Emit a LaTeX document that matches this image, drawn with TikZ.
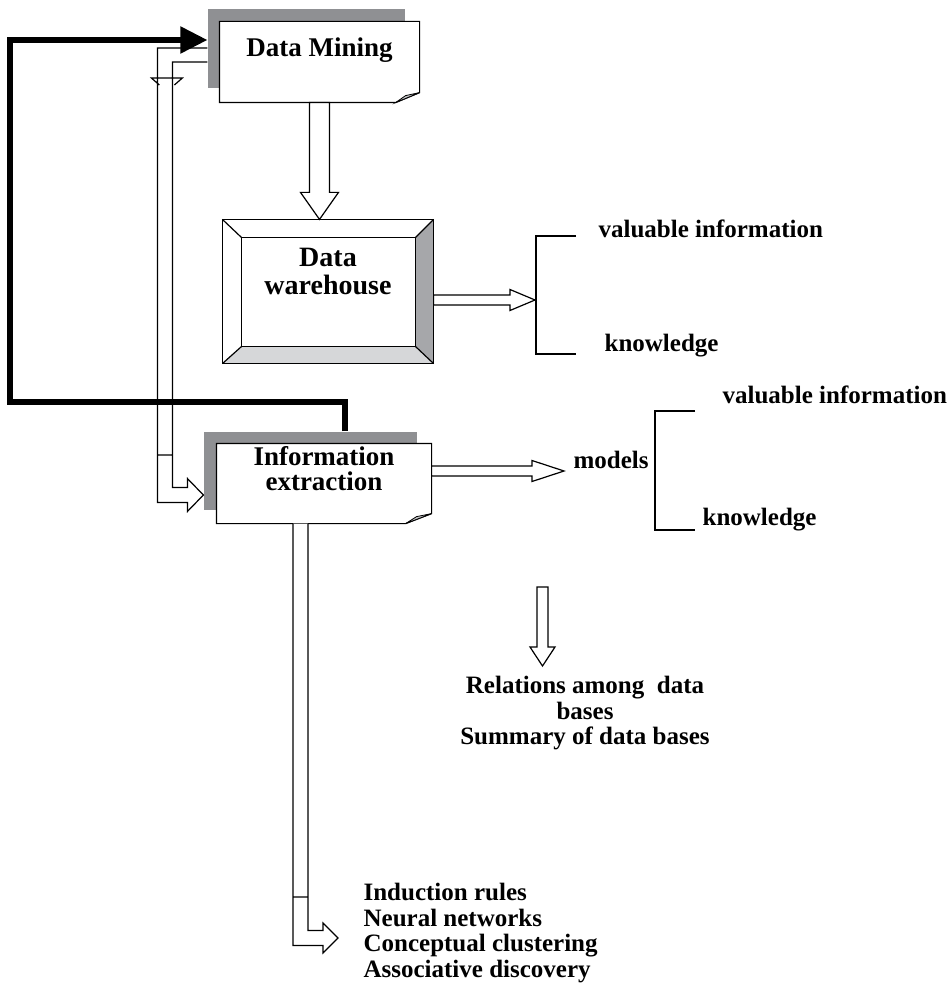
\documentclass[tikz,border=0pt]{standalone}
\usepackage{fontspec}
\setmainfont{Liberation Serif}
\usetikzlibrary{calc,arrows.meta}

\definecolor{shadowgray}{RGB}{143,144,147}
\definecolor{bevelside}{RGB}{166,167,170}
\definecolor{bevelbottom}{RGB}{214,215,217}
\definecolor{foldgray}{RGB}{195,196,198}

% hollow block arrows: start, end, shaft half width, head half width, head length
\newcommand{\rightpipe}[5]{\draw[pipe] let \p1=(#1), \p2=(#2) in
  (\x1,\y1+#3) -- (\x2-#5,\y1+#3) -- (\x2-#5,\y1+#4) -- (\x2,\y1)
  -- (\x2-#5,\y1-#4) -- (\x2-#5,\y1-#3) -- (\x1,\y1-#3) -- cycle;}
\newcommand{\downpipe}[5]{\draw[pipe] let \p1=(#1), \p2=(#2) in
  (\x1-#3,\y1) -- (\x1-#3,\y2+#5) -- (\x1-#4,\y2+#5) -- (\x1,\y2)
  -- (\x1+#4,\y2+#5) -- (\x1+#3,\y2+#5) -- (\x1+#3,\y1) -- cycle;}

\begin{document}
\begin{tikzpicture}[x=0.5pt, y=-0.5pt, line width=0.6pt,
    shadowbox/.style={fill=shadowgray, inner sep=0pt},
    page/.style={fill=white, inner sep=0pt},
    title/.style={font=\fontsize{13.5}{13}\selectfont\bfseries, align=center, inner sep=0pt},
    txt/.style={font=\fontsize{12.5}{12.75}\selectfont\bfseries, inner sep=0pt},
    pipe/.style={draw, fill=white},
    feedback/.style={line width=2.6pt, -{Triangle[length=13.5pt,width=13pt]}}]
  \useasboundingbox (0,0) rectangle (948,984);

  % Data Mining
  \node[shadowbox, minimum width=98.5pt, minimum height=39.5pt] (dmsh) at (306.5,48.5) {};
  \node[page, minimum width=99.5pt, minimum height=40pt] (dm) at (319.5,62) {};
  \draw (dm.north west) -- (dm.north east) -- ([yshift=5pt]dm.south east)
    -- ([xshift=-12pt]dm.south east) -- (dm.south west) -- cycle;
  \filldraw[fill=foldgray, line width=0.4pt] ([xshift=-12pt]dm.south east)
    -- ([shift={(-7pt,3.5pt)}]dm.south east) -- ([yshift=5pt]dm.south east) -- cycle;
  \node[title, anchor=base] (dmtxt) at ([yshift=2.5pt]dm.center) {Data Mining};

  % Data warehouse
  \node[minimum width=105pt, minimum height=71.5pt, inner sep=0pt] (dw) at (328,291.5) {};
  \coordinate (dwnw) at ([shift={(9.5pt,-9pt)}]dw.north west);
  \coordinate (dwne) at ([shift={(-9pt,-9pt)}]dw.north east);
  \coordinate (dwse) at ([shift={(-9pt,8.5pt)}]dw.south east);
  \coordinate (dwsw) at ([shift={(9.5pt,8.5pt)}]dw.south west);
  \fill[bevelside] (dw.north east) -- (dw.south east) -- (dwse) -- (dwne) -- cycle;
  \fill[bevelbottom] (dw.south west) -- (dw.south east) -- (dwse) -- (dwsw) -- cycle;
  \draw (dw.north west) rectangle (dw.south east);
  \draw (dwnw) rectangle (dwse);
  \draw (dw.north west) -- (dwnw) (dw.north east) -- (dwne)
    (dw.south east) -- (dwse) (dw.south west) -- (dwsw);
  \node[title, font=\fontsize{14}{14}\selectfont\bfseries] (dwtxt) at ([yshift=10pt]dw.center) {Data\\warehouse};

  % Information extraction
  \node[shadowbox, minimum width=106.5pt, minimum height=39pt] (iesh) at (310.5,471) {};
  \node[page, minimum width=107pt, minimum height=39.5pt] (ie) at (324,483.5) {};
  \draw (ie.north west) -- (ie.north east) -- ([yshift=5pt]ie.south east)
    -- ([xshift=-13pt]ie.south east) -- (ie.south west) -- cycle;
  \filldraw[fill=foldgray, line width=0.4pt] ([xshift=-13pt]ie.south east)
    -- ([shift={(-7.5pt,3.5pt)}]ie.south east) -- ([yshift=5pt]ie.south east) -- cycle;
  \node[title, font=\fontsize{13.5}{12.5}\selectfont\bfseries] (ietxt) at ([yshift=7.5pt]ie.center) {Information\\extraction};

  % right-hand texts
  \node[txt, anchor=base west] (vi1) at (598,237) {valuable information};
  \node[txt, anchor=base west] (kn1) at (604,351) {knowledge};
  \node[txt, anchor=base west] (models) at (573,468) {models};
  \node[txt, anchor=base west] (vi2) at (722,403) {valuable information};
  \node[txt, anchor=base west] (kn2) at (702,525) {knowledge};
  \node[txt, align=center, anchor=north] (rel) at (585,676)
    {Relations among\ \ data\\bases\\Summary of data bases};
  \node[txt, align=left, anchor=north west] (algos) at (363,883)
    {Induction rules\\Neural networks\\Conceptual clustering\\Associative discovery};

  % brackets
  \coordinate (br1) at (535,300);
  \draw (576,236) -| (536,354) -- (576,354);
  \draw (695,411) -| (655,530) -- (695,530);
  \coordinate (relsrc) at (542.5,587);

  % block arrows
  \downpipe{dm.south}{dw.north}{5pt}{9.5pt}{13.5pt}
  \rightpipe{[yshift=-4.25pt]dw.east}{br1}{2.5pt}{5.25pt}{12.5pt}
  \rightpipe{[yshift=6.25pt]ie.east}{[xshift=-4.5pt]models.west}{2.5pt}{5.25pt}{16pt}
  \downpipe{relsrc}{[yshift=5pt]rel.north}{2.75pt}{6.25pt}{9.5pt}

  % Data Mining -> Information extraction
  \draw[pipe] let \p1=([yshift=-3.25pt]dmsh.west), \p2=([yshift=-12pt]iesh.west) in
    (\x1,\y1+3.5pt) -- (\x1-25pt,\y1+3.5pt) -- (\x1-25pt,\y2-3.75pt)
    -- (\x2-8pt,\y2-3.75pt) -- (\x2-8pt,\y2-8.25pt) -- (\x2,\y2)
    -- (\x2-8pt,\y2+8.25pt) -- (\x2-8pt,\y2+3.75pt) -- (\x1-17.5pt,\y2+3.75pt)
    -- (\x1-17.5pt,\y1-3.5pt) -- (\x1,\y1-3.5pt)
    (\x1-25pt,\y2+20pt) -- (\x1-17.5pt,\y2+20pt)
    (\x1-24pt,\y1-15pt) -- (\x1-28pt,\y1-11.5pt) -- (\x1-12.5pt,\y1-11.5pt) -- (\x1-16.5pt,\y1-15pt);

  % Information extraction -> methods
  \draw[pipe] let \p1=([xshift=-11.75pt]ie.south), \p2=([shift={(-12.5pt,-27.5pt)}]algos.north west) in
    (\x1-3.75pt,\y1) -- (\x1-3.75pt,\y2-3.75pt) -- (\x2-7.5pt,\y2-3.75pt)
    -- (\x2-7.5pt,\y2-7.5pt) -- (\x2,\y2) -- (\x2-7.5pt,\y2+7.5pt)
    -- (\x2-7.5pt,\y2+3.75pt) -- (\x1+3.75pt,\y2+3.75pt) -- (\x1+3.75pt,\y1)
    (\x1-3.75pt,\y2+20.5pt) -- (\x1+3.75pt,\y2+20.5pt);

  % feedback loop
  \coordinate (fbleft) at (10,402);
  \draw[feedback] ([xshift=17.25pt]iesh.north) |- (fbleft) |- ([yshift=4.25pt]dmsh.west);
\end{tikzpicture}
\end{document}
